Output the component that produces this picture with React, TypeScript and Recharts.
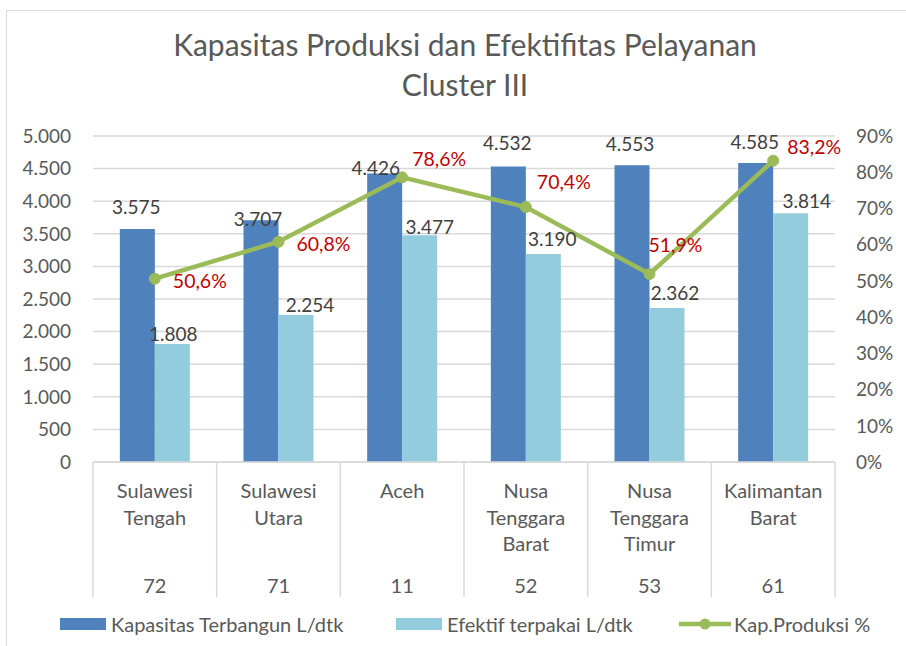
import React from "react";
import { ComposedChart, Bar, Line, XAxis, YAxis, CartesianGrid, LabelList, Legend } from "recharts";

const CATEGORIES = ["Sulawesi Tengah", "Sulawesi Utara", "Aceh", "Nusa Tenggara Barat", "Nusa Tenggara Timur", "Kalimantan Barat"];
const CODES = ["72", "71", "11", "52", "53", "61"];
const KAPASITAS = [3575, 3707, 4426, 4532, 4553, 4585];
const EFEKTIF = [1808, 2254, 3477, 3190, 2362, 3814];
const KAP_PRODUKSI = [0.506, 0.608, 0.786, 0.704, 0.519, 0.832];
const LEFT_TICKS = [0, 500, 1000, 1500, 2000, 2500, 3000, 3500, 4000, 4500, 5000];
const RIGHT_TICKS = [0, 0.1, 0.2, 0.3, 0.4, 0.5, 0.6, 0.7, 0.8, 0.9];
const SERIES_NAMES = ["Kapasitas Terbangun L/dtk", "Efektif terpakai L/dtk", "Kap.Produksi %"];
const TITLE_LINES = ["Kapasitas Produksi dan Efektifitas Pelayanan", "Cluster III"];

const data = CATEGORIES.map((c, i) => ({
  name: c,
  code: CODES[i],
  kap: KAPASITAS[i],
  eff: EFEKTIF[i],
  pct: KAP_PRODUKSI[i],
}));

// styling / label placement nudges (dx, dy)
const FONT = "Lato, 'Open Sans', sans-serif";
const DARK = "#4F81BD";
const LIGHT = "#93CDDD";
const GREEN = "#9BBB59";
const AXIS_TEXT = "#595959";
const GRID = "#D9D9D9";
const DARK_LABEL_NUDGE = [[-1, 22], [-3, 2], [-9, 6], [-1, 24], [-2, 22], [-1, 22]];
const LIGHT_LABEL_NUDGE = [[1, 11], [14, 11], [10, 9], [9, 16], [8, 15], [16, 13]];
const PCT_LABEL_NUDGE = [[18, 2], [18, 2], [10, -19], [11, -25], [-1, -30], [14, -14]];

const W = 906;
const H = 646;
const PLOT_LEFT = 93;
const PLOT_RIGHT = 71;
const BAND = (W - PLOT_LEFT - PLOT_RIGHT) / CATEGORIES.length;

const fmtNum = (n: number) => String(n).replace(/\B(?=(\d{3})+(?!\d))/g, ".");
const fmtPct = (v: number) => (v * 100).toFixed(1).replace(".", ",") + "%";
const fmtAxisPct = (v: number) => Math.round(v * 100) + "%";

const makeBarLabel = (values: number[], nudges: number[][]) => (props: any) => {
  const { x, y, width, value, index } = props;
  const i = typeof index === "number" ? index : values.indexOf(Number(value));
  const [dx, dy] = nudges[i] || [0, 10];
  return (
    <text
      x={Number(x) + Number(width) / 2 + dx}
      y={Number(y) - dy}
      textAnchor="middle"
      dominantBaseline="central"
      fill="#404040"
      fontSize={19}
      fontFamily={FONT}
    >
      {fmtNum(Number(value))}
    </text>
  );
};

const PctLabel = (props: any) => {
  const { x, y, value, index } = props;
  const i = typeof index === "number" ? index : KAP_PRODUKSI.indexOf(Number(value));
  const [dx, dy] = PCT_LABEL_NUDGE[i] || [10, 0];
  return (
    <text
      x={Number(x) + dx}
      y={Number(y) + dy}
      textAnchor="start"
      dominantBaseline="central"
      fill="#C00000"
      fontSize={19.5}
      fontFamily={FONT}
    >
      {fmtPct(Number(value))}
    </text>
  );
};

const XTick = (props: any) => {
  const { x, y, payload, index } = props;
  const lines = String(payload.value).split(" ");
  const i = typeof index === "number" ? index : CATEGORIES.indexOf(payload.value);
  const code = CODES[i];
  return (
    <g>
      <line x1={x - BAND / 2} x2={x - BAND / 2} y1={y} y2={y + 135} stroke={GRID} strokeWidth={1.5} />
      {i === CATEGORIES.length - 1 && (
        <line x1={x + BAND / 2} x2={x + BAND / 2} y1={y} y2={y + 135} stroke={GRID} strokeWidth={1.5} />
      )}
      {lines.map((l, k) => (
        <text
          key={k}
          x={x}
          y={y + 28 + k * 26.5}
          textAnchor="middle"
          dominantBaseline="central"
          fill={AXIS_TEXT}
          fontSize={20}
          fontFamily={FONT}
        >
          {l}
        </text>
      ))}
      <text
        x={x}
        y={y + 123}
        textAnchor="middle"
        dominantBaseline="central"
        fill={AXIS_TEXT}
        fontSize={20}
        fontFamily={FONT}
      >
        {code}
      </text>
    </g>
  );
};

const LegendBox = () => {
  const items = [
    { left: 60, kind: "bar", color: DARK, label: SERIES_NAMES[0] },
    { left: 396, kind: "bar", color: LIGHT, label: SERIES_NAMES[1] },
    { left: 679, kind: "line", color: GREEN, label: SERIES_NAMES[2] },
  ];
  return (
    <div style={{ position: "relative", width: W, height: 40 }}>
      {items.map((it, k) => (
        <div
          key={k}
          style={{ position: "absolute", left: it.left, top: -2, height: 40, display: "flex", alignItems: "center" }}
        >
          {it.kind === "bar" ? (
            <svg width={46} height={12} style={{ display: "block" }}>
              <rect x={0} y={0} width={46} height={12} fill={it.color} />
            </svg>
          ) : (
            <svg width={52} height={14} style={{ display: "block" }}>
              <line x1={0} x2={52} y1={7} y2={7} stroke={it.color} strokeWidth={4.5} />
              <circle cx={26} cy={7} r={5.5} fill={it.color} />
            </svg>
          )}
          <span
            style={{
              marginLeft: it.kind === "bar" ? 5 : 3,
              fontFamily: FONT,
              fontSize: 20,
              color: AXIS_TEXT,
              whiteSpace: "nowrap",
            }}
          >
            {it.label}
          </span>
        </div>
      ))}
    </div>
  );
};

export default function App() {
  return (
    <div
      style={{
        position: "absolute",
        left: 0,
        top: 0,
        width: W,
        height: H,
        overflow: "hidden",
        background: "#fff",
      }}
    >
      <div
        style={{
          position: "absolute",
          left: 6,
          top: 10,
          width: 1200,
          height: 1200,
          border: "1.5px solid #D9D9D9",
        }}
      />
      <div
        style={{
          position: "absolute",
          left: 465 - 400,
          top: 24,
          width: 800,
          textAlign: "center",
          fontFamily: FONT,
          fontSize: 30,
          lineHeight: "40px",
          color: AXIS_TEXT,
        }}
      >
        {TITLE_LINES.map((t, k) => (
          <div key={k}>{t}</div>
        ))}
      </div>
      <div style={{ position: "absolute", left: 0, top: 0 }}>
        <ComposedChart
          width={W}
          height={H}
          data={data}
          margin={{ top: 136, right: 0, bottom: 0, left: 0 }}
          barCategoryGap="21.7%"
          barGap={0}
        >
          <CartesianGrid yAxisId="left" vertical={false} stroke={GRID} strokeWidth={1.5} />
          <XAxis
            dataKey="name"
            height={144}
            interval={0}
            tickLine={false}
            tickSize={0}
            tickMargin={0}
            axisLine={{ stroke: GRID, strokeWidth: 1.5 }}
            tick={<XTick />}
          />
          <YAxis
            yAxisId="left"
            orientation="left"
            width={PLOT_LEFT}
            domain={[0, 5000]}
            ticks={LEFT_TICKS}
            interval={0}
            axisLine={false}
            tickLine={false}
            tickSize={0}
            tickMargin={22}
            tickFormatter={fmtNum}
            tick={{ fill: AXIS_TEXT, fontSize: 19, fontFamily: FONT }}
          />
          <YAxis
            yAxisId="right"
            orientation="right"
            width={PLOT_RIGHT}
            domain={[0, 0.9]}
            ticks={RIGHT_TICKS}
            interval={0}
            axisLine={false}
            tickLine={false}
            tickSize={0}
            tickMargin={21}
            tickFormatter={fmtAxisPct}
            tick={{ fill: AXIS_TEXT, fontSize: 19, fontFamily: FONT, textAnchor: "start" }}
          />
          <Legend verticalAlign="bottom" height={40} content={() => <LegendBox />} wrapperStyle={{ left: 0, width: W }} />
          <Bar yAxisId="left" dataKey="kap" name={SERIES_NAMES[0]} fill={DARK} isAnimationActive={false}>
            <LabelList dataKey="kap" content={makeBarLabel(KAPASITAS, DARK_LABEL_NUDGE)} />
          </Bar>
          <Bar yAxisId="left" dataKey="eff" name={SERIES_NAMES[1]} fill={LIGHT} isAnimationActive={false}>
            <LabelList dataKey="eff" content={makeBarLabel(EFEKTIF, LIGHT_LABEL_NUDGE)} />
          </Bar>
          <Line
            yAxisId="right"
            type="linear"
            dataKey="pct"
            name={SERIES_NAMES[2]}
            stroke={GREEN}
            strokeWidth={4.5}
            dot={{ r: 5.5, fill: GREEN, stroke: GREEN, strokeWidth: 1 }}
            activeDot={false}
            isAnimationActive={false}
          >
            <LabelList dataKey="pct" content={<PctLabel />} />
          </Line>
        </ComposedChart>
      </div>
    </div>
  );
}
